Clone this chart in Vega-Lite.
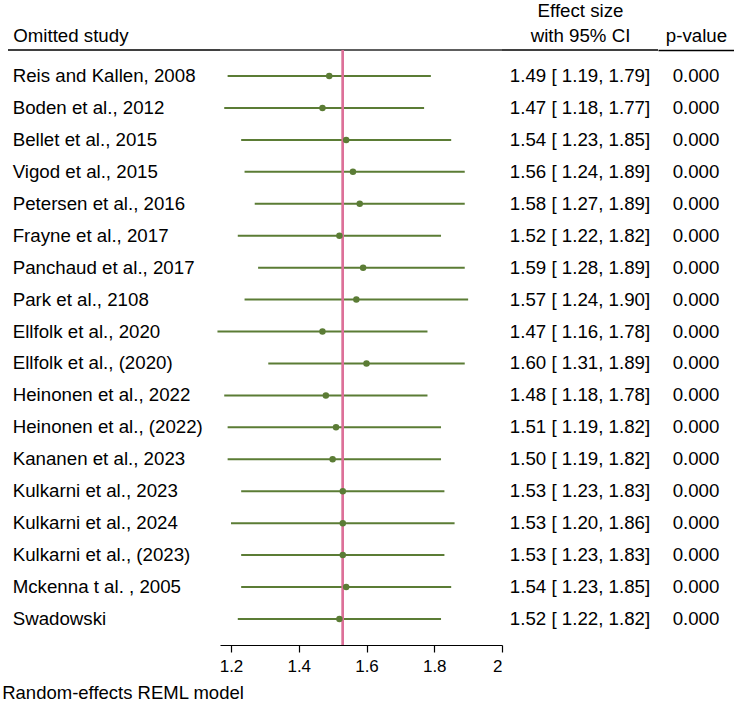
{
  "$schema": "https://vega.github.io/schema/vega-lite/v6.json",
  "padding": {"left": 2, "top": 0, "right": 0, "bottom": 4},
  "bounds": "flush",
  "spacing": 0,
  "config": {
    "font": "Liberation Sans",
    "axis": {"grid": false, "labelFont": "Liberation Sans", "labelColor": "black", "domainColor": "black", "tickColor": "black"}
  },
  "title": {"text": "Random-effects REML model", "orient": "bottom", "anchor": "start", "frame": "bounds", "fontSize": 18.5, "fontWeight": "normal", "color": "black", "font": "Liberation Sans", "offset": 9},
  "datasets": {
    "studies": [
      {"study": "Reis and Kallen, 2008", "es": 1.49, "lo": 1.19, "hi": 1.79, "es_ci": "1.49 [ 1.19,  1.79]", "p": "0.000"},
      {"study": "Boden et al., 2012", "es": 1.47, "lo": 1.18, "hi": 1.77, "es_ci": "1.47 [ 1.18,  1.77]", "p": "0.000"},
      {"study": "Bellet et al., 2015", "es": 1.54, "lo": 1.23, "hi": 1.85, "es_ci": "1.54 [ 1.23,  1.85]", "p": "0.000"},
      {"study": "Vigod et al., 2015", "es": 1.56, "lo": 1.24, "hi": 1.89, "es_ci": "1.56 [ 1.24,  1.89]", "p": "0.000"},
      {"study": "Petersen et al., 2016", "es": 1.58, "lo": 1.27, "hi": 1.89, "es_ci": "1.58 [ 1.27,  1.89]", "p": "0.000"},
      {"study": "Frayne et al., 2017", "es": 1.52, "lo": 1.22, "hi": 1.82, "es_ci": "1.52 [ 1.22,  1.82]", "p": "0.000"},
      {"study": "Panchaud et al., 2017", "es": 1.59, "lo": 1.28, "hi": 1.89, "es_ci": "1.59 [ 1.28,  1.89]", "p": "0.000"},
      {"study": "Park et al., 2108", "es": 1.57, "lo": 1.24, "hi": 1.90, "es_ci": "1.57 [ 1.24,  1.90]", "p": "0.000"},
      {"study": "Ellfolk et al., 2020", "es": 1.47, "lo": 1.16, "hi": 1.78, "es_ci": "1.47 [ 1.16,  1.78]", "p": "0.000"},
      {"study": "Ellfolk et al., (2020)", "es": 1.60, "lo": 1.31, "hi": 1.89, "es_ci": "1.60 [ 1.31,  1.89]", "p": "0.000"},
      {"study": "Heinonen et al., 2022", "es": 1.48, "lo": 1.18, "hi": 1.78, "es_ci": "1.48 [ 1.18,  1.78]", "p": "0.000"},
      {"study": "Heinonen et al., (2022)", "es": 1.51, "lo": 1.19, "hi": 1.82, "es_ci": "1.51 [ 1.19,  1.82]", "p": "0.000"},
      {"study": "Kananen et al., 2023", "es": 1.50, "lo": 1.19, "hi": 1.82, "es_ci": "1.50 [ 1.19,  1.82]", "p": "0.000"},
      {"study": "Kulkarni et al., 2023", "es": 1.53, "lo": 1.23, "hi": 1.83, "es_ci": "1.53 [ 1.23,  1.83]", "p": "0.000"},
      {"study": "Kulkarni et al., 2024", "es": 1.53, "lo": 1.20, "hi": 1.86, "es_ci": "1.53 [ 1.20,  1.86]", "p": "0.000"},
      {"study": "Kulkarni et al., (2023)", "es": 1.53, "lo": 1.23, "hi": 1.83, "es_ci": "1.53 [ 1.23,  1.83]", "p": "0.000"},
      {"study": "Mckenna t al. , 2005", "es": 1.54, "lo": 1.23, "hi": 1.85, "es_ci": "1.54 [ 1.23,  1.85]", "p": "0.000"},
      {"study": "Swadowski", "es": 1.52, "lo": 1.22, "hi": 1.82, "es_ci": "1.52 [ 1.22,  1.82]", "p": "0.000"}
    ]
  },
  "hconcat": [
    {
      "width": 217,
      "height": 595,
      "view": {"stroke": "#000000", "strokeWidth": 1.6, "strokeDash": [0, 5, 212, 5000]},
      "data": {"name": "studies"},
      "mark": {"type": "text", "align": "left", "baseline": "middle", "fontSize": 18.7, "color": "black"},
      "encoding": {
        "y": {"field": "study", "type": "nominal", "sort": null, "scale": {"type": "point", "padding": 0.815}, "axis": null},
        "x": {"datum": "Omitted study", "type": "nominal", "scale": {"type": "point", "align": 0.0447, "padding": 0},
              "axis": {"orient": "top", "title": null, "ticks": false, "domain": false, "labelAlign": "left", "labelBaseline": "alphabetic", "labelFontSize": 18.7, "labelPadding": 9, "labelAngle": 0}},
        "text": {"field": "study"}
      }
    },
    {
      "width": 282,
      "height": 595,
      "view": {"stroke": "#2a2a2a", "strokeWidth": 1.6, "strokeDash": [282, 3000]},
      "data": {"name": "studies"},
      "layer": [
        {
          "mark": {"type": "rule", "color": "#5b7c35", "strokeWidth": 2},
          "encoding": {
            "y": {"field": "study", "type": "nominal", "sort": null, "scale": {"type": "point", "padding": 0.815}, "axis": null},
            "x": {"field": "lo", "type": "quantitative", "scale": {"domain": [1.1675, 2.0], "nice": false, "zero": false},
                  "axis": {"orient": "bottom", "title": null, "values": [1.2, 1.4, 1.6, 1.8, 2], "format": "~g", "tickSize": 7, "tickWidth": 1.2, "domainWidth": 1.2, "labelFontSize": 17, "labelPadding": 6}},
            "x2": {"field": "hi"}
          }
        },
        {
          "mark": {"type": "rule", "color": "#dd7099", "strokeWidth": 1.7},
          "encoding": {
            "x": {"datum": 1.53, "type": "quantitative"}
          }
        },
        {
          "mark": {"type": "point", "filled": true, "opacity": 1, "size": 42, "color": "#5b7c35"},
          "encoding": {
            "y": {"field": "study", "type": "nominal", "sort": null},
            "x": {"field": "es", "type": "quantitative"}
          }
        }
      ]
    },
    {
      "width": 156,
      "height": 595,
      "view": {"stroke": "black", "strokeWidth": 1.6, "strokeDash": [156, 3000]},
      "data": {"name": "studies"},
      "mark": {"type": "text", "align": "center", "baseline": "middle", "fontSize": 18.7, "color": "black"},
      "encoding": {
        "y": {"field": "study", "type": "nominal", "sort": null, "scale": {"type": "point", "padding": 0.815}, "axis": null},
        "x": {"datum": "Effect size|with 95% CI", "type": "nominal", "scale": {"type": "point"},
              "axis": {"orient": "top", "title": null, "ticks": false, "domain": false, "labelFontSize": 18.7, "labelBaseline": "alphabetic", "labelPadding": 34, "labelAngle": 0, "labelLineHeight": 25, "labelExpr": "split(datum.label, '|')"}},
        "text": {"field": "es_ci"}
      }
    },
    {
      "width": 76,
      "height": 595,
      "view": {"stroke": null},
      "data": {"name": "studies"},
      "mark": {"type": "text", "align": "center", "baseline": "middle", "fontSize": 18.7, "color": "black"},
      "encoding": {
        "y": {"field": "study", "type": "nominal", "sort": null, "scale": {"type": "point", "padding": 0.815}, "axis": null},
        "x": {"datum": "p-value", "type": "nominal", "scale": {"type": "point"},
              "axis": {"orient": "top", "title": null, "ticks": false, "domain": true, "domainColor": "#000000", "domainWidth": 1.6, "labelFontSize": 18.7, "labelBaseline": "alphabetic", "labelPadding": 9, "labelAngle": 0}},
        "text": {"field": "p"}
      }
    }
  ]
}
